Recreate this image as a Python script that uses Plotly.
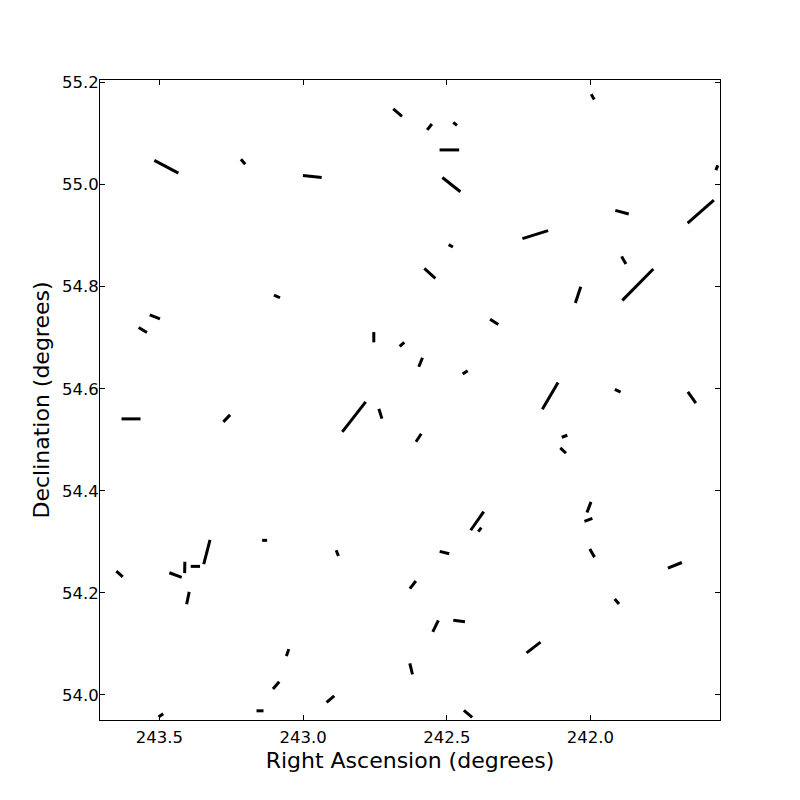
import numpy as np
import plotly.graph_objects as go

FAMILY = "DejaVu Sans"

# centre of each stick (RA, Dec in degrees)
ra = [242.671, 243.476, 243.209, 242.968, 243.091, 243.516, 243.558, 242.754, 242.656, 241.992,
      242.560, 242.471, 242.491, 242.484, 241.560, 241.616, 241.890, 242.192, 242.486, 241.884,
      242.559, 241.835, 242.043, 242.335, 242.591, 242.436, 242.140, 241.905, 241.647, 243.599,
      243.266, 242.823, 242.731, 243.134, 242.881, 243.639, 243.444, 243.412, 243.375, 243.335,
      243.401, 243.054, 243.094, 242.905, 243.150, 243.495, 242.598, 242.090, 242.095, 242.005,
      242.007, 242.394, 242.385, 242.508, 241.994, 241.706, 242.618, 241.908, 242.539, 242.457,
      242.198, 242.624, 242.426]
dec = [55.141, 55.035, 55.045, 55.016, 54.781, 54.741, 54.715, 54.701, 54.687, 55.172,
       55.113, 55.119, 55.068, 55.000, 55.033, 54.947, 54.946, 54.902, 54.880, 54.852,
       54.826, 54.804, 54.784, 54.731, 54.652, 54.632, 54.586, 54.596, 54.583, 54.541,
       54.542, 54.545, 54.551, 54.303, 54.278, 54.237, 54.235, 54.250, 54.252, 54.280,
       54.190, 54.083, 54.019, 53.992, 53.969, 53.960, 54.504, 54.507, 54.479, 54.368,
       54.343, 54.341, 54.324, 54.279, 54.278, 54.254, 54.216, 54.183, 54.135, 54.145,
       54.093, 54.051, 53.963]
# stick length (screen units) and position angle (deg, counter-clockwise from left-to-right)
length = [11.4, 27.2, 6.6, 18.8, 6.6, 11.0, 9.7, 10.3, 6.1, 6.1,
          7.6, 4.8, 19.6, 23.0, 5.1, 34.9, 13.9, 26.9, 4.9, 8.7,
          14.9, 44.1, 17.2, 9.8, 9.7, 6.0, 31.0, 6.3, 13.8, 19.0,
          9.7, 38.0, 10.2, 5.0, 6.1, 8.6, 13.2, 11.4, 9.3, 25.1,
          12.6, 7.4, 9.6, 10.1, 7.0, 5.7, 9.6, 5.9, 7.9, 11.3,
          8.5, 22.7, 5.0, 9.9, 9.3, 15.1, 9.7, 6.6, 12.7, 11.8,
          17.6, 11.3, 10.9]
angle = [139.6, 152.1, 130.7, 173.9, 155.8, 158.8, 148.9, 90.0, 41.0, 119.5,
         51.9, 141.0, 0.0, 141.5, 67.0, 41.2, 165.0, 17.3, 150.8, 119.5,
         137.7, 45.4, 71.7, 147.4, 67.6, 33.4, 59.5, 154.7, 125.3, 0.0,
         46.3, 52.0, 107.2, 0.0, 112.0, 138.3, 159.6, 89.0, 0.0, 75.5,
         78.1, 71.1, 49.2, 41.0, 0.0, 35.7, 56.5, 19.7, 136.5, 69.3,
         20.6, 55.0, 53.1, 166.0, 120.4, 22.2, 51.7, 130.7, 63.8, 173.2,
         37.4, 103.8, 139.9]

x_range = [243.707, 241.549]
y_range = [53.951, 55.205]
# page body has an 8px margin, so the figure is 792 wide/high
W, H = 792, 792
margin = dict(l=92, r=80, t=72, b=80)

# screen pixels per degree, so sticks keep their on-screen length/angle
sx = (W - margin["l"] - margin["r"]) / abs(x_range[1] - x_range[0])
sy = (H - margin["t"] - margin["b"]) / abs(y_range[1] - y_range[0])

ra = np.array(ra)
dec = np.array(dec)
half = np.array(length) / 2
th = np.radians(angle)
dra = -half * np.cos(th) / sx
ddec = half * np.sin(th) / sy

xs, ys = [], []
for i in range(len(ra)):
    xs += [ra[i] - dra[i], ra[i] + dra[i], None]
    ys += [dec[i] - ddec[i], dec[i] + ddec[i], None]

fig = go.Figure(go.Scatter(x=xs, y=ys, mode="lines",
                           line=dict(color="black", width=3),
                           hoverinfo="skip", showlegend=False))

axis_common = dict(showgrid=False, zeroline=False, showline=True, linecolor="black",
                   linewidth=1, mirror="ticks", ticks="inside", ticklen=5,
                   tickcolor="black", tickfont=dict(family=FAMILY, size=16.5, color="black"))

fig.update_xaxes(range=x_range, tickvals=[243.5, 243.0, 242.5, 242.0],
                 ticktext=["243.5", "243.0", "242.5", "242.0"], ticklabelstandoff=2,
                 title=dict(text="Right Ascension (degrees)",
                            font=dict(family=FAMILY, size=22, color="black"), standoff=6),
                 **axis_common)
fig.update_yaxes(range=y_range, tickvals=[54.0, 54.2, 54.4, 54.6, 54.8, 55.0, 55.2],
                 ticktext=["54.0", "54.2", "54.4", "54.6", "54.8", "55.0", "55.2"],
                 ticklabelstandoff=-3,
                 title=dict(text="Declination (degrees)",
                            font=dict(family=FAMILY, size=22, color="black"), standoff=6),
                 **axis_common)

fig.update_layout(width=W, height=H, margin=margin, paper_bgcolor="white",
                  plot_bgcolor="white", font=dict(family=FAMILY))

fig.write_html("out.html")
